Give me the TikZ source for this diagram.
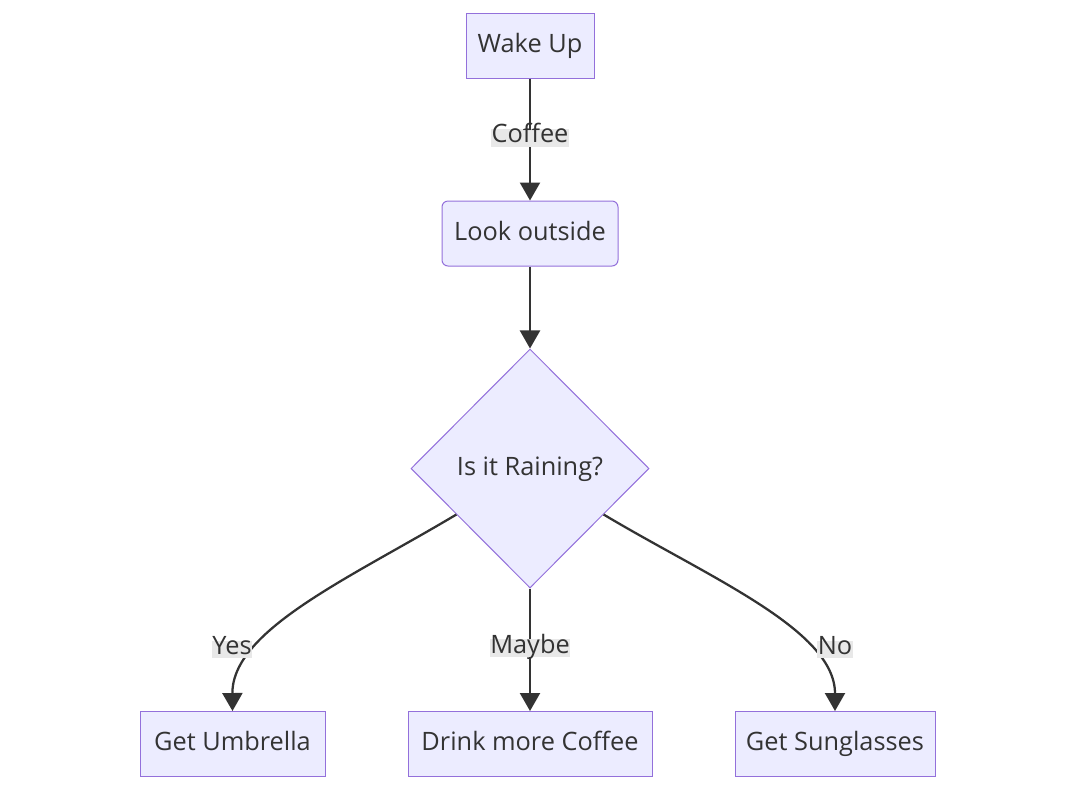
\documentclass[tikz,border=0pt]{standalone}
\usepackage{fontspec}
\setmainfont{Open Sans}
\usepackage{tikz}
\usetikzlibrary{arrows.meta, shapes.geometric}

\definecolor{boxfill}{HTML}{ECECFF}
\definecolor{boxline}{HTML}{9370DB}
\definecolor{ink}{HTML}{333333}
\definecolor{labelbg}{HTML}{E8E8E8}

\begin{document}
\begin{tikzpicture}[
    x=0.75pt, y=-0.75pt,
    >={Triangle[length=13.5pt, width=15pt]},
    box style/.style={draw=boxline, fill=boxfill, line width=0.75pt, text=ink, font=\fontsize{19}{22}\selectfont, text height=1.04em, text depth=0.04em, minimum height=48.75pt, inner sep=0pt},
    round box style/.style={box style, rounded corners=4.5pt},
    decision style/.style={box style, diamond, minimum width=178.5pt, minimum height=179.25pt},
    edge style/.style={line width=1.7pt, draw=ink, ->},
    edge label style/.style={fill=labelbg, text=ink, font=\fontsize{19}{22}\selectfont, text height=0.9em, text depth=0.18em, inner xsep=0.5pt, inner ysep=1.2pt, yshift=-2.5pt}
]

% Fix the page size
\useasboundingbox (0,0) rectangle (1075,790);

% Draw the steps
\node[box style, minimum width=96pt] (wake) at (530,45.5) {Wake Up};
\node[round box style, minimum width=132pt] (look) at (530,233.5) {Look outside};
\node[decision style] (rain) at (530,468.5) {Is it Raining?};

% Draw the outcomes
\node[box style, minimum width=138.75pt] (umbrella) at (232.5,744) {Get Umbrella};
\node[box style, minimum width=183pt] (drink) at (530,744) {Drink more Coffee};
\node[box style, minimum width=150pt] (sun) at (835,744) {Get Sunglasses};

% Draw the straight edges
\draw[edge style] (wake) -- node[edge label style, pos=0.46] (coffee) {Coffee} (look);
\draw[edge style] (look) -- (rain);
\draw[edge style] (rain) -- node[edge label style, pos=0.46] (maybe) {Maybe} (drink);

% Draw the curved edges
\draw[edge style] (rain.212) .. controls (350,578) and (232,630) .. (umbrella.north);
\draw[edge style] (rain.-32) .. controls (710,578) and (835,630) .. (sun.north);

% Labels of the curved edges
\node[edge label style] (yes) at (232,646) {Yes};
\node[edge label style] (no) at (835,646) {No};
\end{tikzpicture}
\end{document}
